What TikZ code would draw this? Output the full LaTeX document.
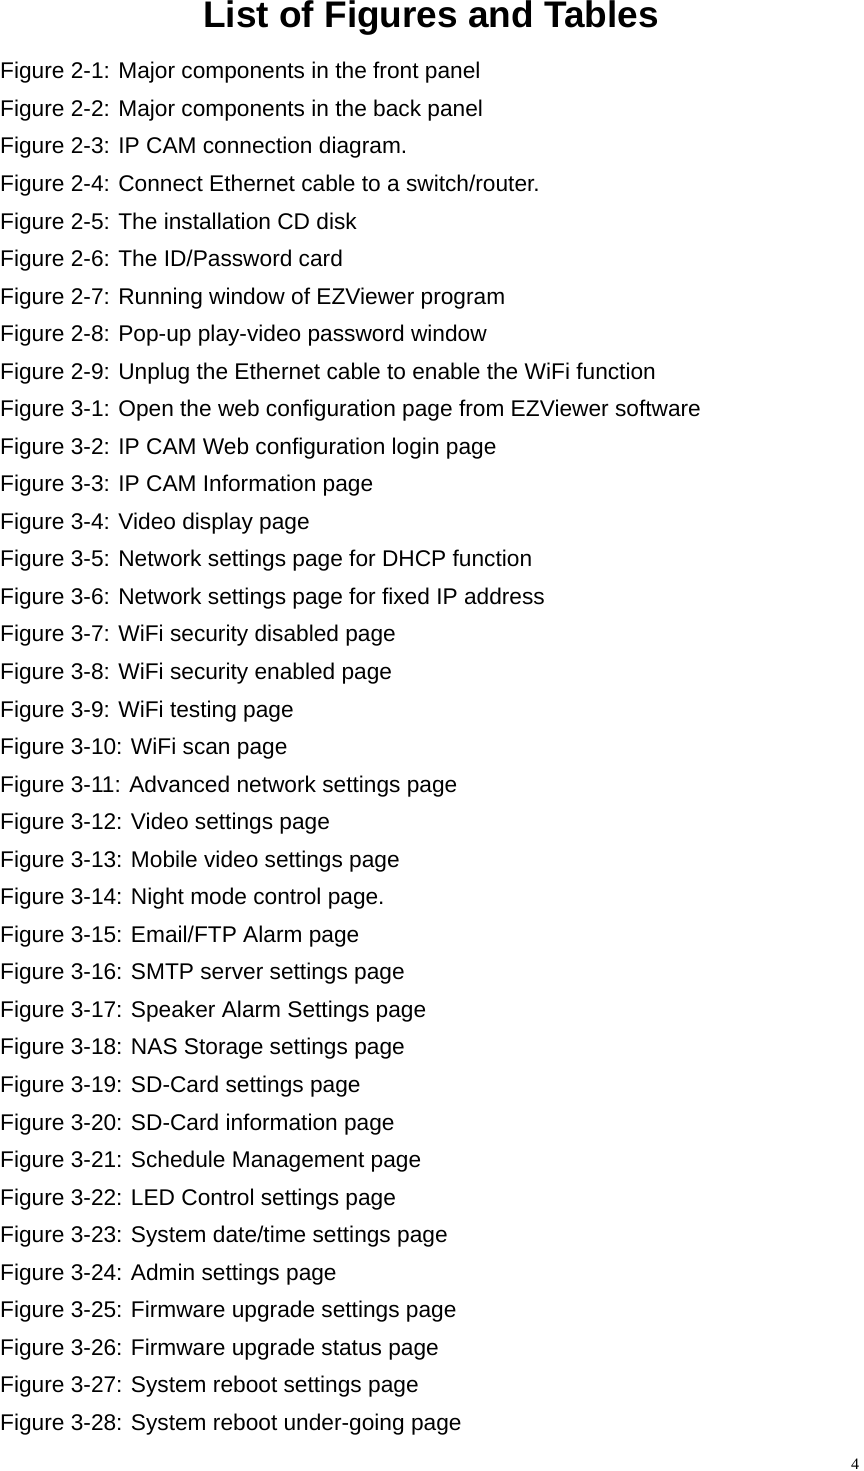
\documentclass[tikz,border=0pt]{standalone}
\usepackage{fontspec}
\setmainfont{Liberation Sans}
\newfontfamily\serifpn{Liberation Serif}
\begin{document}
\begin{tikzpicture}[x=1pt,y=-1pt,
  entry/.style={anchor=west,inner sep=0pt,font=\fontsize{22.7}{26}\selectfont}]
\useasboundingbox (0,0) rectangle (863,1471);
\node[inner sep=0pt,font=\bfseries\fontsize{37}{40}\selectfont] (title) at (431,18) {List of Figures and Tables};
\foreach \t [count=\i] in {
Figure 2-1: Major components in the front panel,
Figure 2-2: Major components in the back panel,
Figure 2-3: IP CAM connection diagram.,
Figure 2-4: Connect Ethernet cable to a switch/router.,
Figure 2-5: The installation CD disk,
Figure 2-6: The ID/Password card,
Figure 2-7: Running window of EZViewer program,
Figure 2-8: Pop-up play-video password window,
Figure 2-9: Unplug the Ethernet cable to enable the WiFi function,
Figure 3-1: Open the web configuration page from EZViewer software,
Figure 3-2: IP CAM Web configuration login page,
Figure 3-3: IP CAM Information page,
Figure 3-4: Video display page,
Figure 3-5: Network settings page for DHCP function,
Figure 3-6: Network settings page for fixed IP address,
Figure 3-7: WiFi security disabled page,
Figure 3-8: WiFi security enabled page,
Figure 3-9: WiFi testing page,
Figure 3-10: WiFi scan page,
Figure 3-11: Advanced network settings page,
Figure 3-12: Video settings page,
Figure 3-13: Mobile video settings page,
Figure 3-14: Night mode control page.,
Figure 3-15: Email/FTP Alarm page,
Figure 3-16: SMTP server settings page,
Figure 3-17: Speaker Alarm Settings page,
Figure 3-18: NAS Storage settings page,
Figure 3-19: SD-Card settings page,
Figure 3-20: SD-Card information page,
Figure 3-21: Schedule Management page,
Figure 3-22: LED Control settings page,
Figure 3-23: System date/time settings page,
Figure 3-24: Admin settings page,
Figure 3-25: Firmware upgrade settings page,
Figure 3-26: Firmware upgrade status page,
Figure 3-27: System reboot settings page,
Figure 3-28: System reboot under-going page}
  \node[entry] (e\i) at (0,{73+(\i-1)*37.54}) {\t};
\node[inner sep=0pt,font=\serifpn\fontsize{16}{18}\selectfont] (pn) at (855,1464) {4};
\end{tikzpicture}
\end{document}
